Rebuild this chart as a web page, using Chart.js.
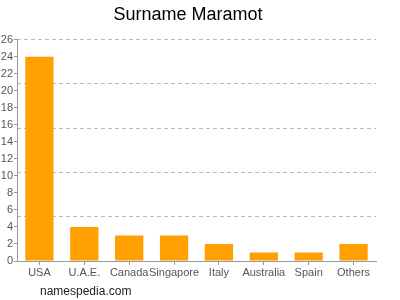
<!DOCTYPE html>
<html>
<head>
<meta charset="utf-8">
<script src="https://cdn.jsdelivr.net/npm/chart.js@4/dist/chart.umd.min.js"></script>
<style>
	html, body { margin: 0; padding: 0; background: #fff; }
	#wrap { width: 400px; height: 300px; }
</style>
</head>
<body>
<div id="wrap"><canvas id="chart"></canvas></div>
<script>
// values
const countries = ["USA", "U.A.E.", "Canada", "Singapore", "Italy", "Australia", "Spain", "Others"];
const counts = [24, 4, 3, 3, 2, 1, 1, 2];
const yMax = 26;
const yStep = 2;

const barColor = "#ffa000";
const fontName = "'Liberation Sans', Arial, sans-serif";

// footer text bottom-left
const footerText = {
	id: "footerText",
	afterDraw(chart) {
		const ctx = chart.ctx;
		ctx.save();
		ctx.font = "12px " + fontName;
		ctx.fillStyle = "#222";
		ctx.textBaseline = "middle";
		ctx.fillText("namespedia.com", 40, 292);
		ctx.restore();
	}
};

new Chart(document.getElementById("chart"), {
	type: "bar",
	data: {
		labels: countries,
		datasets: [{
			data: counts,
			backgroundColor: barColor,
			barPercentage: 0.63,
			categoryPercentage: 1
		}]
	},
	options: {
		responsive: true,
		maintainAspectRatio: false,
		animation: false,
		layout: { padding: { left: 0, right: 24, top: 0, bottom: 0 } },
		plugins: {
			legend: { display: false },
			tooltip: { enabled: false },
			title: {
				display: true,
				text: "Surname Maramot",
				color: "#000",
				font: { family: fontName, size: 18, weight: "normal" },
				padding: { top: 4, bottom: 14 }
			}
		},
		scales: {
			x: {
				grid: { display: true, drawOnChartArea: false, offset: false, tickLength: 4, color: "#999" },
				border: { color: "#999" },
				ticks: { color: "#555", font: { family: fontName, size: 11 }, padding: 1, maxRotation: 0, autoSkip: false },
				afterFit: s => { s.height = 39; }
			},
			y: {
				min: 0,
				max: yMax,
				ticks: { stepSize: yStep, color: "#555", font: { family: fontName, size: 11 }, padding: 1 },
				grid: { drawOnChartArea: false, tickLength: 3, color: "#999" },
				border: { color: "#999" },
				afterFit: s => { s.width = 17; }
			},
			y2: {
				position: "left",
				min: 0,
				max: yMax,
				ticks: { display: false, count: 6 },
				grid: { color: "#bbb", tickLength: 0, drawTicks: false },
				border: { display: false, dash: [4, 3] },
				afterFit: s => { s.width = 0; }
			}
		}
	},
	plugins: [footerText]
});
</script>
</body>
</html>
